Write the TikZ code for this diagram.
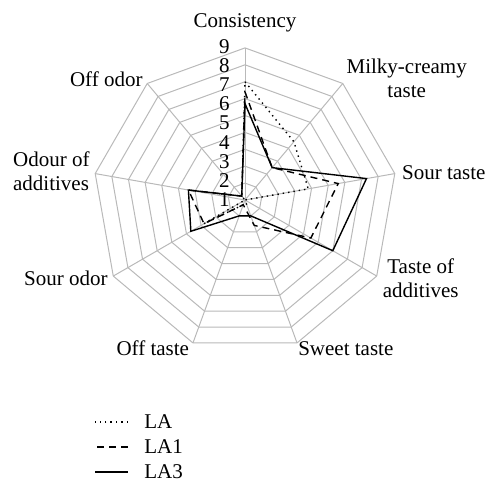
\documentclass[tikz,border=0pt]{standalone}
\usepackage{fontspec}
\setmainfont{Liberation Serif}

\begin{document}
\begin{tikzpicture}[x=0.5pt, y=0.5pt,
  nodes = {font=\fontsize{10.5}{12}\selectfont, inner sep=0pt, align=center},
  grid/.style = {draw=gray!55, line width=0.5pt},
  la/.style = {line width=0.7pt, dotted},
  laone/.style = {line width=0.7pt, dash pattern=on 3.5pt off 2.5pt},
  lathree/.style = {line width=0.7pt}
  ]
  \useasboundingbox (-245,-283) rectangle (240,200);

  % rings and spokes
  \foreach \r in {1,...,9}
    \draw [grid] (90:{\r*16.9}) \foreach \k in {1,...,8} { -- ({90-40*\k}:{\r*16.9}) } -- cycle;
  \foreach \k in {0,...,8}
    \draw [grid] (0,0) -- ({90-40*\k}:152);

  % scale
  \foreach \n in {1,...,9}
    \node (n\n) [anchor=east] at (-15, {153.3-(9-\n)*19.1}) {\n};

  % samples
  \draw [la] (90:{7.0*16.9}) \foreach \v [count=\k] in {4.5,3.8,0,0.3,0.3,2.8,0,0.3}
    { -- ({90-40*\k}:{\v*16.9}) } -- cycle;
  \draw [laone] (90:{6.4*16.9}) \foreach \v [count=\k] in {2.5,5.6,4.5,1.6,0.3,2.8,3.4,0.3}
    { -- ({90-40*\k}:{\v*16.9}) } -- cycle;
  \draw [lathree] (90:{5.7*16.9}) \foreach \v [count=\k] in {2.5,7.3,6.0,1.0,1.0,3.7,3.4,0.3}
    { -- ({90-40*\k}:{\v*16.9}) } -- cycle;

  % axis names
  \node (cons)  at (0,177.3) {Consistency};
  \node (milky) at (161.7,121.3) {Milky-creamy\\taste};
  \node (sour)  [anchor=west] at (156.7,27.3) {Sour taste};
  \node (tadd)  at (175.7,-78) {Taste of\\additives};
  \node (sweet) at (100.8,-148.3) {Sweet taste};
  \node (offt)  at (-92.2,-148.3) {Off taste};
  \node (sodor) at (-179.2,-78.3) {Sour odor};
  \node (oadd)  [anchor=west, align=left] at (-232.3,28.7) {Odour of\\additives};
  \node (offo)  at (-138.7,121) {Off odor};

  % legend
  \node (lalab)      [anchor=west] at (-101,-222) {LA};
  \node (laonelab)   [anchor=west] at (-101,-247) {LA1};
  \node (lathreelab) [anchor=west] at (-101,-272) {LA3};
  \draw [la]      ([xshift=-8pt]lalab.west) -- ++(-33,0);
  \draw [laone]   ([xshift=-8pt]laonelab.west) -- ++(-33,0);
  \draw [lathree] ([xshift=-8pt]lathreelab.west) -- ++(-33,0);
\end{tikzpicture}
\end{document}
